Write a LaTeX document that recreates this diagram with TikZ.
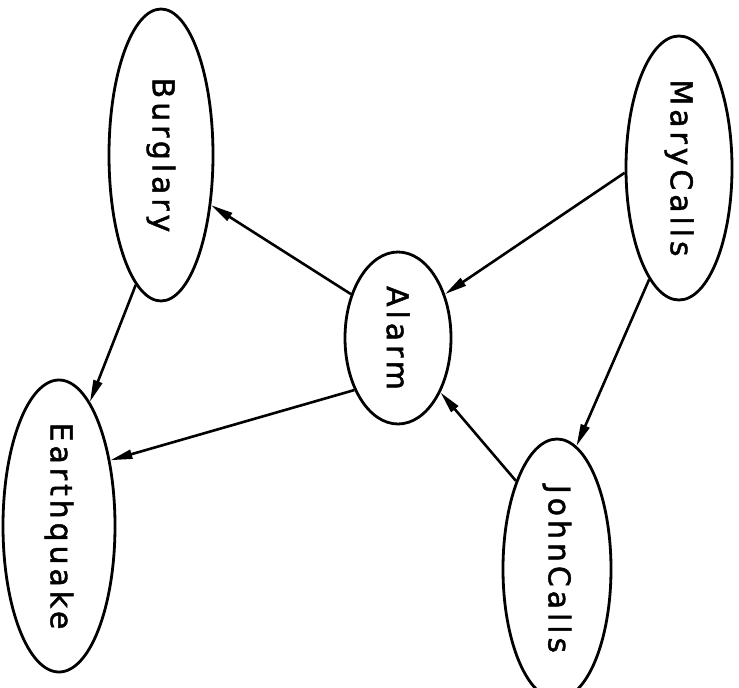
\documentclass[tikz,border=0pt]{standalone}
\usepackage{fontspec}
\usetikzlibrary{shapes.geometric,arrows.meta}
\newfontfamily\lab[LetterSpace=13,FakeBold=1.5]{DejaVu Sans}
\newcommand{\vlab}[1]{\rotatebox{-90}{\makebox[0pt]{\lab\fontsize{30pt}{30pt}\selectfont #1}}}
\tikzset{
  var/.style={ellipse, draw, line width=2.8pt, inner sep=0pt},
  link/.style={line width=2.6pt, -{Triangle[length=22pt,width=9pt]}}
}
\begin{document}
\begin{tikzpicture}[x=1pt,y=-1pt]
\useasboundingbox (0,0) rectangle (739,688);
\node[var, minimum width=104pt, minimum height=292pt] (burglary) at (161,155) {\vlab{Burglary}};
\node[var, minimum width=112pt, minimum height=292pt] (earthquake) at (59,526) {\vlab{Earthquake}};
\node[var, minimum width=106pt, minimum height=172pt] (alarm) at (398,338) {\vlab{Alarm}};
\node[var, minimum width=106pt, minimum height=264pt] (mary) at (679,168) {\vlab{MaryCalls}};
\node[var, minimum width=108pt, minimum height=260pt] (john) at (557,569) {\vlab{JohnCalls}};
\draw[link] (alarm.137) -- (burglary.-45);
\draw[link] (burglary.-101) -- (earthquake.76);
\draw[link] (alarm.-130) -- (earthquake.52);
\draw[link] (mary.-175) -- (alarm.43);
\draw[link] (mary.-105) -- (john.81);
\draw[link] (john.115) -- (alarm.-52);
\end{tikzpicture}
\end{document}
